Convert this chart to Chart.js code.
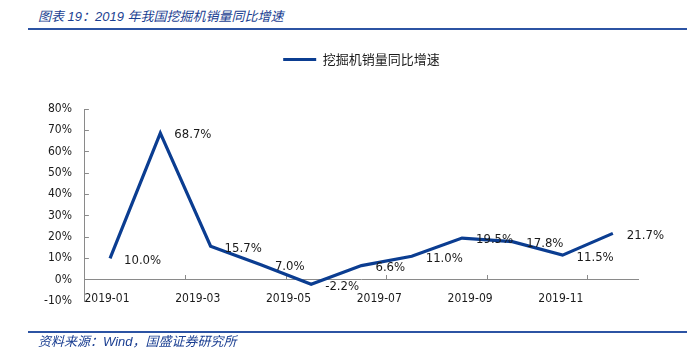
<!DOCTYPE html>
<html>
<head>
<meta charset="utf-8">
<script src="https://cdn.jsdelivr.net/npm/chart.js@4/dist/chart.umd.min.js"></script>
<style>
  html, body { margin: 0; padding: 0; background: #fff; }
  #wrap { position: relative; width: 687px; height: 363px; overflow: hidden; }
  #chart { position: absolute; left: 0; top: 0; }
  .title { position: absolute; left: 38px; top: 6px; font: italic 13px "Liberation Sans", "Noto Sans CJK SC", sans-serif; color: #1b3f92; white-space: nowrap; }
  .rule { position: absolute; left: 28px; right: 0; height: 2px; background: #2c53a3; }
  .source { position: absolute; left: 38px; top: 331px; font: italic 13px "Liberation Sans", "Noto Sans CJK SC", sans-serif; color: #1b3f92; white-space: nowrap; }
</style>
</head>
<body>
<div id="wrap">
  <div class="title">图表 19：2019 年我国挖掘机销量同比增速</div>
  <div class="rule" style="top:28px"></div>
  <canvas id="chart" width="687" height="363"></canvas>
  <div class="rule" style="top:331px"></div>
  <div class="source">资料来源：Wind，国盛证券研究所</div>
</div>
<script>
const categories = ['2019-01','2019-02','2019-03','2019-04','2019-05','2019-06','2019-07','2019-08','2019-09','2019-10','2019-11'];
const seriesName = '挖掘机销量同比增速';
const growthValues = [10.0, 68.7, 15.7, 7.0, -2.2, 6.6, 11.0, 19.5, 17.8, 11.5, 21.7];
const yTicks = [-10, 0, 10, 20, 30, 40, 50, 60, 70, 80];
const xTickLabels = ['2019-01','2019-03','2019-05','2019-07','2019-09','2019-11'];

const labelFont = '"DejaVu Sans Condensed", "DejaVu Sans", sans-serif';
const axisColor = '#8a8a8a';
const lineColor = '#0b3d91';

const valueLabels = {
  id: 'valueLabels',
  afterDatasetsDraw(chart) {
    const meta = chart.getDatasetMeta(0);
    const ctx = chart.ctx;
    ctx.save();
    ctx.font = '13px ' + labelFont;
    ctx.fillStyle = '#1a1a1a';
    ctx.textAlign = 'left';
    ctx.textBaseline = 'middle';
    meta.data.forEach((pt, i) => {
      ctx.fillText(growthValues[i].toFixed(1) + '%', pt.x + 14, pt.y + 2);
    });
    ctx.restore();
  }
};

const legendGap = {
  id: 'legendGap',
  beforeInit(chart) {
    const origFit = chart.legend.fit;
    chart.legend.fit = function () {
      origFit.bind(chart.legend)();
      this.height += 33;
    };
  }
};

new Chart(document.getElementById('chart'), {
  type: 'line',
  data: {
    labels: categories,
    datasets: [{
      label: seriesName,
      data: growthValues,
      borderColor: lineColor,
      backgroundColor: lineColor,
      borderWidth: 3.2,
      pointRadius: 0,
      pointHoverRadius: 0,
      tension: 0,
      fill: false
    }]
  },
  options: {
    responsive: false,
    animation: false,
    events: [],
    layout: { padding: { top: 12, left: 27, right: 49, bottom: 62 } },
    plugins: {
      tooltip: { enabled: false },
      legend: {
        position: 'top',
        fullSize: false,
        labels: {
          usePointStyle: true,
          pointStyle: 'line',
          pointStyleWidth: 33,
          padding: 41,
          color: '#1a1a1a',
          font: { family: '"Noto Sans CJK SC", sans-serif', size: 13 }
        }
      }
    },
    scales: {
      x: {
        type: 'category',
        position: { y: 0 },
        offset: true,
        grid: {
          offset: true,
          drawOnChartArea: false,
          tickLength: -5,
          color: axisColor,
          tickColor: (c) => (c.index % 2 === 0 ? axisColor : 'rgba(0,0,0,0)')
        },
        border: { color: axisColor, width: 1 },
        ticks: { display: false }
      },
      xl: {
        type: 'linear',
        axis: 'x',
        position: { y: 0 },
        min: -0.486,
        max: 11.70,
        afterBuildTicks: (scale) => {
          scale.ticks = xTickLabels.map(l => ({ value: categories.indexOf(l) }));
        },
        grid: { display: false, drawTicks: false },
        border: { display: false },
        ticks: {
          autoSkip: false,
          maxRotation: 0,
          padding: 12,
          color: '#1a1a1a',
          font: { family: labelFont, size: 12 },
          callback: (v) => categories[v]
        }
      },
      y: {
        min: -10,
        max: 80,
        afterBuildTicks: (scale) => { scale.ticks = yTicks.map(v => ({ value: v })); },
        grid: { drawOnChartArea: false, tickLength: -4, color: axisColor },
        border: { color: axisColor, width: 1 },
        ticks: {
          padding: 17,
          color: '#1a1a1a',
          font: { family: labelFont, size: 12 },
          callback: (v) => v + '%'
        }
      }
    }
  },
  plugins: [valueLabels, legendGap]
});
</script>
</body>
</html>
